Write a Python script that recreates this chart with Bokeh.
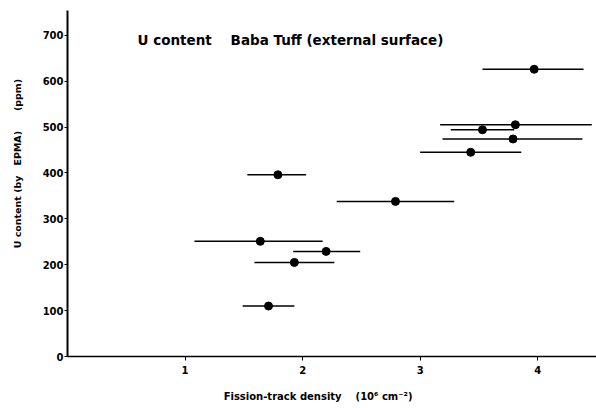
from bokeh.plotting import figure
from bokeh.models import Label, FixedTicker, ColumnDataSource
from bokeh.embed import file_html
from bokeh.resources import INLINE

# data
density = [1.79, 2.79, 1.64, 2.20, 1.93, 1.71, 3.97, 3.81, 3.53, 3.79, 3.43]
u_content = [396, 338, 251, 229, 205, 110, 626, 505, 494, 474, 445]
density_lo = [1.53, 2.29, 1.08, 1.92, 1.59, 1.49, 3.53, 3.17, 3.26, 3.19, 3.00]
density_hi = [2.03, 3.29, 2.17, 2.49, 2.27, 1.93, 4.39, 4.46, 3.80, 4.38, 3.86]
x_ticks = [1, 2, 3, 4]
y_ticks = [0, 100, 200, 300, 400, 500, 600, 700]

FONT = "DejaVu Sans"
NB = "\u00a0"

src = ColumnDataSource(dict(x=density, y=u_content, lo=density_lo, hi=density_hi))

p = figure(width=596, height=408, output_backend="svg", toolbar_location=None,
           x_range=(0, 4.50), y_range=(0, 754),
           min_border_left=67, min_border_right=0, min_border_top=10, min_border_bottom=52)
p.outline_line_color = None
p.xgrid.visible = False
p.ygrid.visible = False

p.segment(x0="lo", x1="hi", y0="y", y1="y", source=src, line_color="black", line_width=1.5)
p.scatter(x="x", y="y", source=src, size=8, fill_color="black", line_color="black")

for ax in (p.xaxis[0], p.yaxis[0]):
    ax.major_label_text_font = FONT
    ax.major_label_text_font_style = "bold"
    ax.major_label_text_font_size = "10px"
    ax.major_label_text_color = "black"
    ax.minor_tick_line_color = None
    ax.major_tick_in = 0
    ax.axis_line_color = "black"
    ax.major_tick_line_color = "black"
    ax.axis_label_text_font = FONT
    ax.axis_label_text_font_style = "bold"
    ax.axis_label_text_color = "black"

p.xaxis[0].ticker = FixedTicker(ticks=x_ticks)
p.yaxis[0].ticker = FixedTicker(ticks=y_ticks)
p.xaxis[0].axis_line_width = 1.5
p.yaxis[0].axis_line_width = 2
p.xaxis[0].major_tick_out = 4
p.yaxis[0].major_tick_out = 3
p.xaxis[0].major_label_standoff = 5
p.yaxis[0].major_label_standoff = 1

p.yaxis[0].axis_label = NB * 12 + "U content (by" + NB * 3 + "EPMA)" + NB * 6 + "(ppm)"
p.yaxis[0].axis_label_text_font_size = "9.5px"
p.yaxis[0].axis_label_standoff = 17

p.xaxis[0].axis_label = "Fission-track density" + NB * 4 + "(10\u2076 cm\u207b\u00b2)" + NB * 8
p.xaxis[0].axis_label_text_font_size = "10px"
p.xaxis[0].axis_label_standoff = 14

p.add_layout(Label(x=0.596, y=690, text="U content" + NB * 4 + "Baba Tuff (external surface)",
                   text_font=FONT, text_font_style="bold", text_font_size="13.5px",
                   text_align="left", text_baseline="middle", text_color="black"))

open("out.html", "w").write(file_html(p, INLINE))
